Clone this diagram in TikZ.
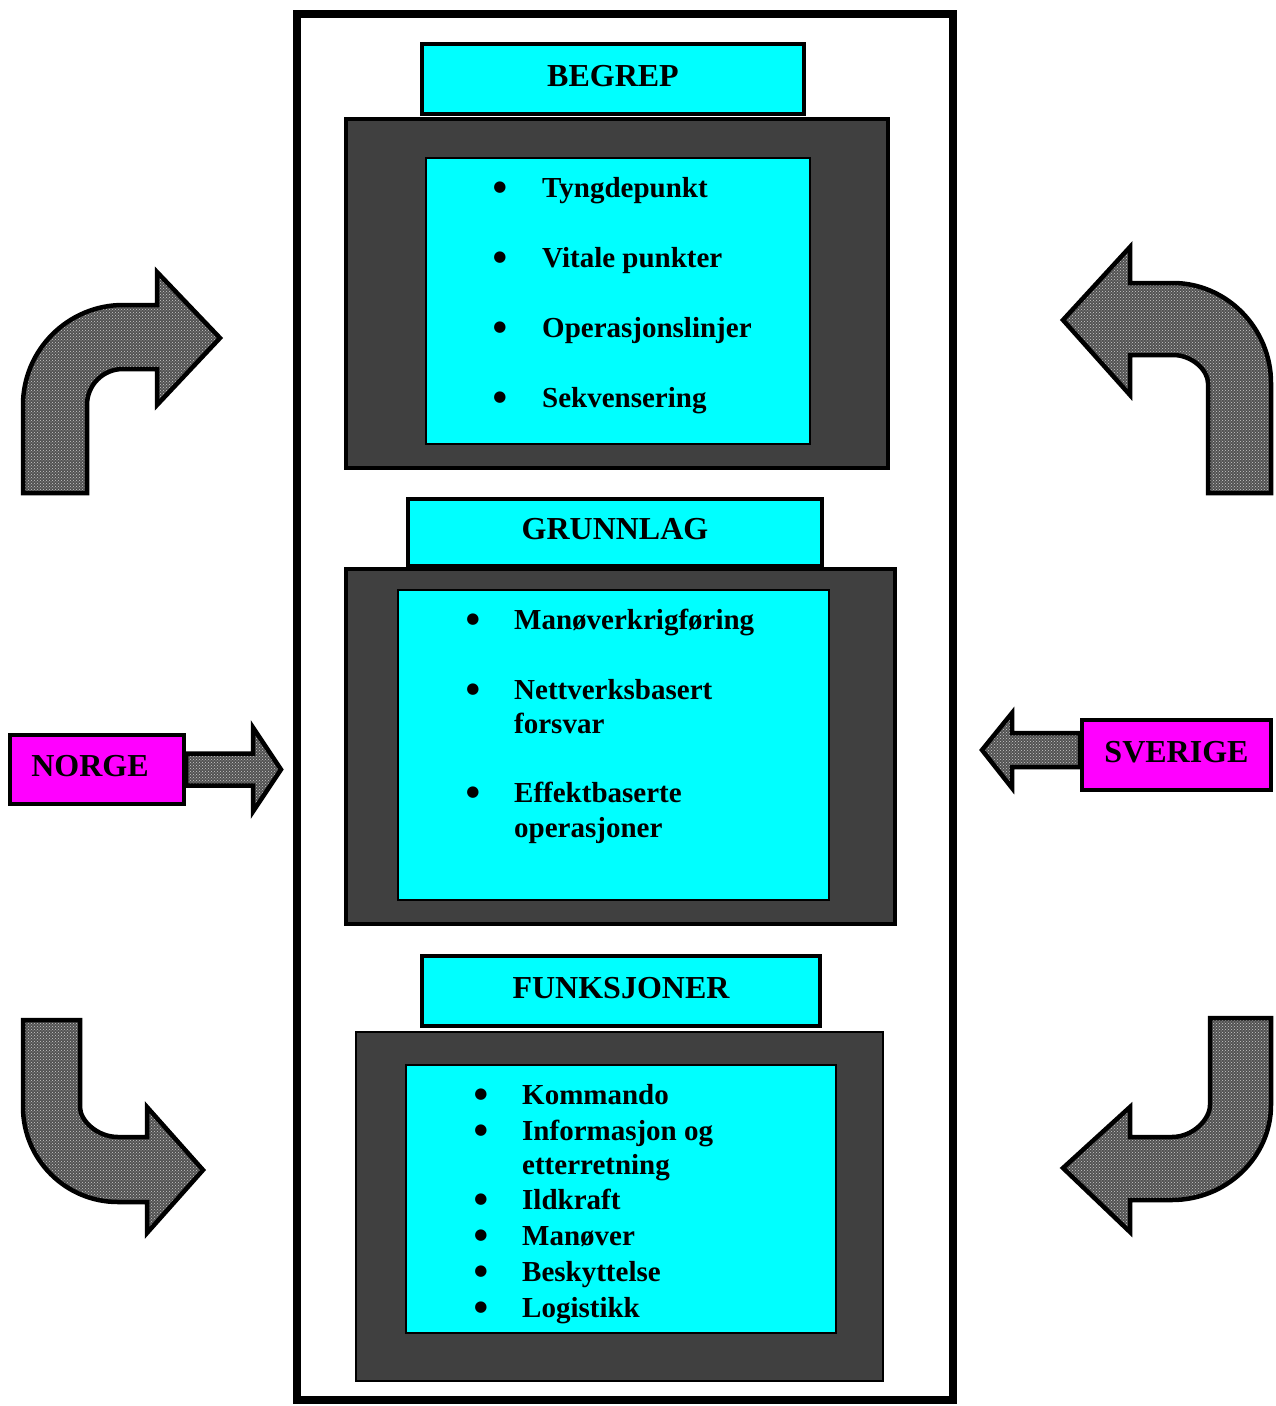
\documentclass[tikz,border=0pt]{standalone}
\usepackage{fontspec}
\setmainfont{Liberation Serif}
\newfontfamily\dotfont{DejaVu Sans}
\usetikzlibrary{patterns,calc}
\definecolor{cy}{HTML}{00FFFF}
\definecolor{mg}{HTML}{FF00FF}
\definecolor{dk}{HTML}{404040}
\begin{document}
\begin{tikzpicture}[x=1pt,y=-1pt,
  frame/.style={draw=black,line width=8pt,fill=white,inner sep=0pt},
  darkbox/.style={draw=black,line width=4pt,fill=dk,inner sep=0pt},
  panel/.style={draw=black,line width=2pt,fill=cy,inner sep=0pt},
  headfont/.style={font=\fontsize{32}{36}\selectfont\bfseries},
  tabbox/.style={draw=black,line width=4pt,fill=cy,inner sep=0pt,text height=22pt,text depth=8pt,headfont},
  country/.style={draw=black,line width=4pt,fill=mg,inner sep=0pt,text height=22pt,text depth=8pt,headfont},
  item/.style={anchor=base west,inner sep=0pt,font=\fontsize{29}{34}\selectfont\bfseries},
  dot/.style={anchor=center,inner sep=0pt,yshift=9pt,font=\dotfont\fontsize{15}{16}\selectfont},
  bigarrow/.style={draw=black,line width=4.5pt,line join=miter,
    preaction={fill=black!68},
    preaction={pattern=crosshatch dots,pattern color=white!80!black}}
]
\useasboundingbox (0,0) rectangle (1275,1406);

% outer frame
\node[frame,minimum width=656pt,minimum height=1386pt] (outer) at (625,707) {};

% BEGREP block
\node[darkbox,minimum width=542pt,minimum height=349pt] (dark1) at (617,293.5) {};
\node[panel,minimum width=384pt,minimum height=286pt] (panel1) at (618,301) {};
\node[tabbox,minimum width=382pt,minimum height=70pt] (begrep) at (613,79) {BEGREP};
\node[dot] (b11) at (500,197) {●}; \node[item] (t11) at (542,197) {Tyngdepunkt};
\node[dot] (b12) at (500,267) {●}; \node[item] (t12) at (542,267) {Vitale punkter};
\node[dot] (b13) at (500,337) {●}; \node[item] (t13) at (542,337) {Operasjonslinjer};
\node[dot] (b14) at (500,407) {●}; \node[item] (t14) at (542,407) {Sekvensering};

% GRUNNLAG block
\node[darkbox,minimum width=549pt,minimum height=355pt] (dark2) at (620.5,746.5) {};
\node[panel,minimum width=431pt,minimum height=310pt] (panel2) at (613.5,745) {};
\node[tabbox,minimum width=414pt,minimum height=67pt] (grunnlag) at (615,532.5) {GRUNNLAG};
\node[dot] (b21) at (473,629) {●}; \node[item] (t21) at (514,629) {Manøverkrigføring};
\node[dot] (b22) at (473,699) {●}; \node[item] (t22) at (514,699) {Nettverksbasert};
\node[item] (t22b) at (514,733) {forsvar};
\node[dot] (b23) at (473,802) {●}; \node[item] (t23) at (514,802) {Effektbaserte};
\node[item] (t23b) at (514,837) {operasjoner};

% FUNKSJONER block
\node[darkbox,line width=2pt,minimum width=527pt,minimum height=349pt] (dark3) at (619.5,1206.5) {};
\node[panel,minimum width=430pt,minimum height=268pt] (panel3) at (621,1199) {};
\node[tabbox,minimum width=398pt,minimum height=70pt] (funksjoner) at (621,991) {FUNKSJONER};
\node[dot] (b31) at (481,1104) {●}; \node[item] (t31) at (522,1104) {Kommando};
\node[dot] (b32) at (481,1140) {●}; \node[item] (t32) at (522,1140) {Informasjon og};
\node[item] (t32b) at (522,1174) {etterretning};
\node[dot] (b33) at (481,1209) {●}; \node[item] (t33) at (522,1209) {Ildkraft};
\node[dot] (b34) at (481,1245) {●}; \node[item] (t34) at (522,1245) {Manøver};
\node[dot] (b35) at (481,1281) {●}; \node[item] (t35) at (522,1281) {Beskyttelse};
\node[dot] (b36) at (481,1317) {●}; \node[item] (t36) at (522,1317) {Logistikk};

% country boxes
\node[country,minimum width=174pt,minimum height=69pt] (norge) at (97,769.5) {\hspace*{-14pt}NORGE};
\node[country,minimum width=189pt,minimum height=70pt] (sverige) at (1176.5,755) {SVERIGE};

% straight arrows
\draw[bigarrow] ($(norge.east)+(0,-16)$) -- ++(67,0) -- ++(0,-26) -- ++(28,42) -- ++(-28,42) -- ++(0,-26) -- ($(norge.east)+(0,16)$) -- cycle;
\draw[bigarrow] ($(sverige.west)+(0,-22)$) -- ++(-68,0) -- ++(0,-20) -- ++(-30,37) -- ++(30,38) -- ++(0,-21) -- ($(sverige.west)+(0,12)$) -- cycle;

% bent arrows
\draw[bigarrow] (23,493) -- (23,405) .. controls (23,350) and (68,305) .. (123,305)
  -- (157,305) -- (157,272) -- (220,338) -- (157,405) -- (157,369) -- (123,369)
  .. controls (103,369) and (87,385) .. (87,405) -- (87,493) -- cycle;
\draw[bigarrow] (23,1020) -- (23,1107) .. controls (23,1159.5) and (65.6,1202) .. (118,1202)
  -- (147,1202) -- (147,1233) -- (203,1170) -- (147,1107) -- (147,1137) -- (118,1137)
  .. controls (97,1137) and (80,1120.4) .. (80,1107) -- (80,1020) -- cycle;
\draw[bigarrow] (1271,493) -- (1271,383) .. controls (1271,327.8) and (1226.2,283) .. (1173,283)
  -- (1130,283) -- (1130,247) -- (1063,320) -- (1130,395) -- (1130,355) -- (1173,355)
  .. controls (1192.3,355) and (1208,370.5) .. (1208,383) -- (1208,493) -- cycle;
\draw[bigarrow] (1271,1018) -- (1271,1105) .. controls (1271,1157.4) and (1226.2,1200) .. (1172,1200)
  -- (1130,1200) -- (1130,1232) -- (1063,1168) -- (1130,1107) -- (1130,1137) -- (1172,1137)
  .. controls (1193,1137) and (1210,1119.3) .. (1210,1105) -- (1210,1018) -- cycle;
\end{tikzpicture}
\end{document}
